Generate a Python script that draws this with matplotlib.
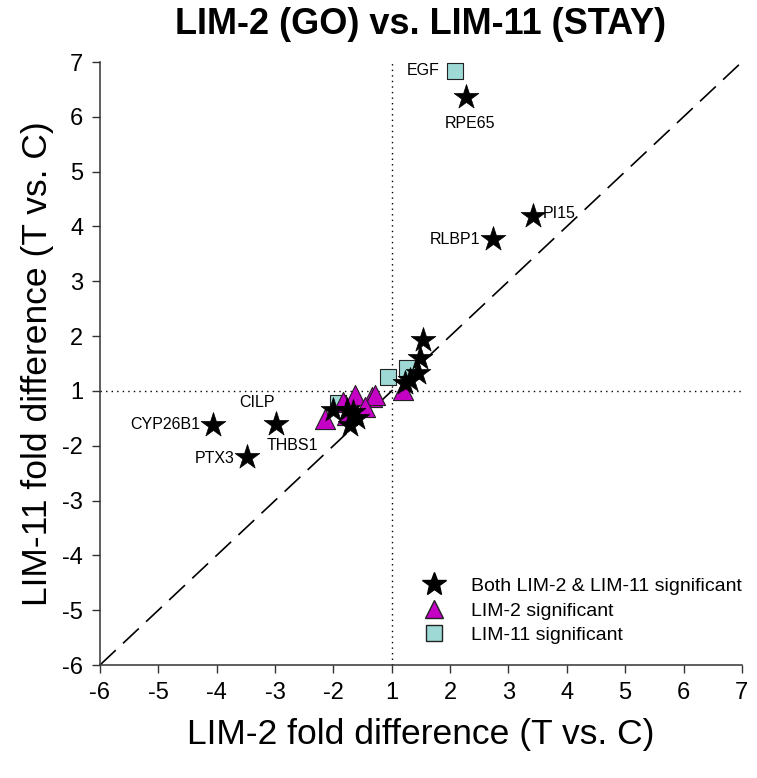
import matplotlib
matplotlib.use("Agg")
import matplotlib.pyplot as plt
from matplotlib.lines import Line2D
import numpy as np

plt.rcParams['font.family'] = ['Liberation Sans', 'DejaVu Sans']

# Fold-difference values (LIM-2 on x, LIM-11 on y)
both_x = [2.27, 3.42, 2.73, -4.06, -2.98, -3.48, 1.53, 1.48, 1.45, 1.31, 1.23, -2.01, -1.67, -1.60, -1.72, -1.77]
both_y = [6.36, 4.19, 3.77, -1.62, -1.61, -2.21, 1.93, 1.60, 1.33, 1.20, 1.14, -1.35, -1.39, -1.50, -1.62, -1.35]
both_names = ["RPE65", "PI15", "RLBP1", "CYP26B1", "CILP", "PTX3", "", "", "", "", "", "", "", "", "", ""]

lim2_x = [-2.14, -1.84, -1.63, -1.34, -1.29, -1.46, -1.77, 1.19]
lim2_y = [-1.51, -1.20, -1.08, -1.11, -1.08, -1.30, -1.44, 1.01]

lim11_x = [2.08, -1.07, 1.26, -1.92]
lim11_y = [6.84, 1.25, 1.42, -1.22]
lim11_names = ["EGF", "", "", ""]

tick_vals = [-6, -5, -4, -3, -2, 1, 2, 3, 4, 5, 6, 7]


def pos(f):
    """Map fold difference to a linear axis position (-1 and 1 coincide)."""
    f = np.asarray(f, dtype=float)
    return np.where(f >= 1, f, f + 2)


fig = plt.figure(figsize=(7.57, 7.78), dpi=100)
ax = fig.add_axes([0.132, 0.1452, 0.848, 0.7751])

lo, hi = pos(-6), pos(7)
ax.set_xlim(lo, hi)
ax.set_ylim(lo, hi)

# reference lines
ax.plot([lo, hi], [lo, hi], color='black', lw=1.2, dashes=(13, 6), zorder=1)
ax.axvline(pos(1), color='black', lw=1.0, ls=(0, (1, 3)), zorder=1)
ax.axhline(pos(1), color='black', lw=1.0, ls=(0, (1, 3)), zorder=1)

sq = ax.scatter(pos(lim11_x), pos(lim11_y), marker='s', s=135, facecolor='#9ED9D6',
                edgecolor='#222222', linewidth=0.8, zorder=3)
tr = ax.scatter(pos(lim2_x), pos(lim2_y), marker='^', s=210, facecolor='#C400C4',
                edgecolor='#222222', linewidth=0.8, zorder=4)
st = ax.scatter(pos(both_x), pos(both_y), marker='*', s=350, facecolor='black',
                edgecolor='black', linewidth=0.5, zorder=5)

lab_fs = 11.5
# gene labels
offsets = {
    "RPE65": (3, -19, 'center', 'center'),
    "PI15": (7, 1.5, 'left', 'center'),
    "RLBP1": (-9, 0, 'right', 'center'),
    "CYP26B1": (-9, 0, 'right', 'center'),
    "CILP": (-14, 16, 'center', 'center'),
    "PTX3": (-9, -1, 'right', 'center'),
}
for x, y, n in zip(both_x, both_y, both_names):
    if n in offsets:
        dx, dy, ha, va = offsets[n]
        ax.annotate(n, (pos(x), pos(y)), xytext=(dx, dy), textcoords='offset points',
                    ha=ha, va=va, fontsize=lab_fs)
# THBS1 shares the point with CILP
ax.annotate("THBS1", (pos(both_x[4]), pos(both_y[4])), xytext=(12, -15),
            textcoords='offset points', ha='center', va='center', fontsize=lab_fs)
for x, y, n in zip(lim11_x, lim11_y, lim11_names):
    if n:
        ax.annotate(n, (pos(x), pos(y)), xytext=(-11, 0), textcoords='offset points',
                    ha='right', va='center', fontsize=lab_fs)

ax.set_xticks(pos(tick_vals))
ax.set_xticklabels([str(t) for t in tick_vals])
ax.set_yticks(pos(tick_vals))
ax.set_yticklabels([str(t) for t in tick_vals])
ax.tick_params(axis='both', direction='out', length=6, width=1, labelsize=17, color='#333333', pad=6)

for s in ['top', 'right']:
    ax.spines[s].set_visible(False)
for s in ['left', 'bottom']:
    ax.spines[s].set_linewidth(1.1)
    ax.spines[s].set_color('#333333')

ax.set_xlabel("LIM-2 fold difference (T vs. C)", fontsize=25.5, labelpad=10)
ax.set_ylabel("LIM-11 fold difference (T vs. C)", fontsize=25.5, labelpad=6)
ax.set_title("LIM-2 (GO) vs. LIM-11 (STAY)", fontsize=26, fontweight='bold', pad=20)

handles = [
    Line2D([], [], marker='*', ls='none', markersize=18, markerfacecolor='black', markeredgecolor='black'),
    Line2D([], [], marker='^', ls='none', markersize=13, markerfacecolor='#C400C4', markeredgecolor='#222222'),
    Line2D([], [], marker='s', ls='none', markersize=11, markerfacecolor='#9ED9D6', markeredgecolor='#222222'),
]
ax.legend(handles, ["Both LIM-2 & LIM-11 significant", "LIM-2 significant", "LIM-11 significant"],
          loc='upper left', bbox_to_anchor=(0.478, 0.158), borderaxespad=0, frameon=False,
          fontsize=14, handletextpad=0.9, labelspacing=0.35)

fig.savefig("out.png", dpi=100)
